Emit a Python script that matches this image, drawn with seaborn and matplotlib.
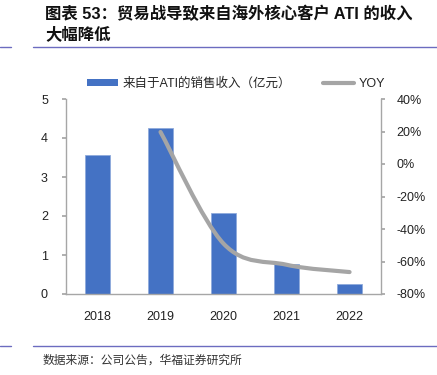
import numpy as np
import pandas as pd
import matplotlib
matplotlib.use('Agg')
import matplotlib.pyplot as plt
import seaborn as sns
from matplotlib.path import Path
from matplotlib.patches import PathPatch, Patch
from matplotlib.lines import Line2D
from matplotlib.ticker import FuncFormatter

# Data
years = ['2018', '2019', '2020', '2021', '2022']
revenue = [3.56, 4.26, 2.08, 0.77, 0.26]
yoy_years = ['2019', '2020', '2021', '2022']
yoy = [0.197, -0.49, -0.62, -0.665]

bar_label = '来自于ATI的销售收入（亿元）'
line_label = 'YOY'
title_1 = '图表 53：贸易战导致来自海外核心客户 ATI 的收入'
title_2 = '大幅降低'
source = '数据来源：公司公告，华福证券研究所'

sns.set_theme(style='white')
plt.rcParams['font.family'] = ['Liberation Sans', 'Noto Sans CJK SC', 'DejaVu Sans']

df = pd.DataFrame({'year': years, 'revenue': revenue})

fig = plt.figure(figsize=(4.37, 3.75), dpi=100)
ax = fig.add_axes([0.151, 0.216, 0.721, 0.52])

sns.barplot(data=df, x='year', y='revenue', color='#4472C4', saturation=1,
            width=0.41, edgecolor='#8FAADC', linewidth=0.6, ax=ax)
ax.set_ylim(0, 5)
ax.set_yticks([0, 1, 2, 3, 4, 5])
ax.set_xlabel('')
ax.set_ylabel('')

ax2 = ax.twinx()
ax2.set_ylim(-0.8, 0.4)
ax2.set_yticks([-0.8, -0.6, -0.4, -0.2, 0, 0.2, 0.4])
ax2.yaxis.set_major_formatter(FuncFormatter(lambda v, p: f'{v * 100:.0f}%'))

# smoothed line (Excel style: Catmull-Rom -> cubic bezier)
xs = [years.index(y) for y in yoy_years]
pts = np.column_stack([xs, yoy])
verts = [tuple(pts[0])]
codes = [Path.MOVETO]
n = len(pts)
for i in range(n - 1):
    p0 = pts[i - 1] if i > 0 else pts[i]
    p1 = pts[i]
    p2 = pts[i + 1]
    p3 = pts[i + 2] if i + 2 < n else pts[i + 1]
    c1 = p1 + (p2 - p0) / 6
    c2 = p2 - (p3 - p1) / 6
    verts += [tuple(c1), tuple(c2), tuple(p2)]
    codes += [Path.CURVE4, Path.CURVE4, Path.CURVE4]
ax2.add_patch(PathPatch(Path(verts, codes), facecolor='none', edgecolor='#A5A5A5',
                        linewidth=3, capstyle='round'))
ax2.set_xlim(-0.5, 4.5)

spine_c = '#A6A6A6'
for a in (ax, ax2):
    for s in a.spines.values():
        s.set_visible(False)
ax.spines['left'].set_visible(True)
ax.spines['bottom'].set_visible(True)
ax2.spines['right'].set_visible(True)
for s in (ax.spines['left'], ax.spines['bottom'], ax2.spines['right']):
    s.set_color(spine_c)
    s.set_linewidth(1)

ax.tick_params(axis='y', left=True, length=3, color=spine_c, labelsize=9, pad=10, labelcolor='#222222')
ax.tick_params(axis='x', bottom=False, labelsize=9, pad=6, labelcolor='#222222')
ax2.tick_params(axis='y', right=True, length=3, color=spine_c, labelsize=9, pad=8, labelcolor='#222222')

handles = [Patch(facecolor='#4472C4', edgecolor='none'),
           Line2D([0], [0], color='#A5A5A5', linewidth=3)]
leg = fig.legend(handles, [bar_label, line_label], loc='center', ncol=2,
                 bbox_to_anchor=(0.54, 0.777), frameon=False, fontsize=9,
                 handlelength=2.5, handleheight=0.45, columnspacing=2.6, handletextpad=0.3)

fig.text(0.103, 0.963, title_1, fontsize=11.8, fontweight='bold', ha='left', va='center',
         family=['Liberation Sans', 'Noto Sans CJK SC'], color='#111111')
fig.text(0.103, 0.909, title_2, fontsize=11.8, fontweight='bold', ha='left', va='center',
         family=['Noto Sans CJK SC'], color='#111111')

line_c = '#6C6CC0'
fig.add_artist(Line2D([0, 0.025], [0.875, 0.875], color=line_c, linewidth=1))
fig.add_artist(Line2D([0.076, 1.0], [0.875, 0.875], color=line_c, linewidth=1))
fig.add_artist(Line2D([0, 0.025], [0.077, 0.077], color=line_c, linewidth=1))
fig.add_artist(Line2D([0.076, 1.0], [0.077, 0.077], color=line_c, linewidth=1))

fig.text(0.098, 0.04, source, fontsize=8.5, ha='left', va='center',
         family=['Noto Sans CJK SC'], color='#333333')

fig.savefig('out.png', dpi=100)
